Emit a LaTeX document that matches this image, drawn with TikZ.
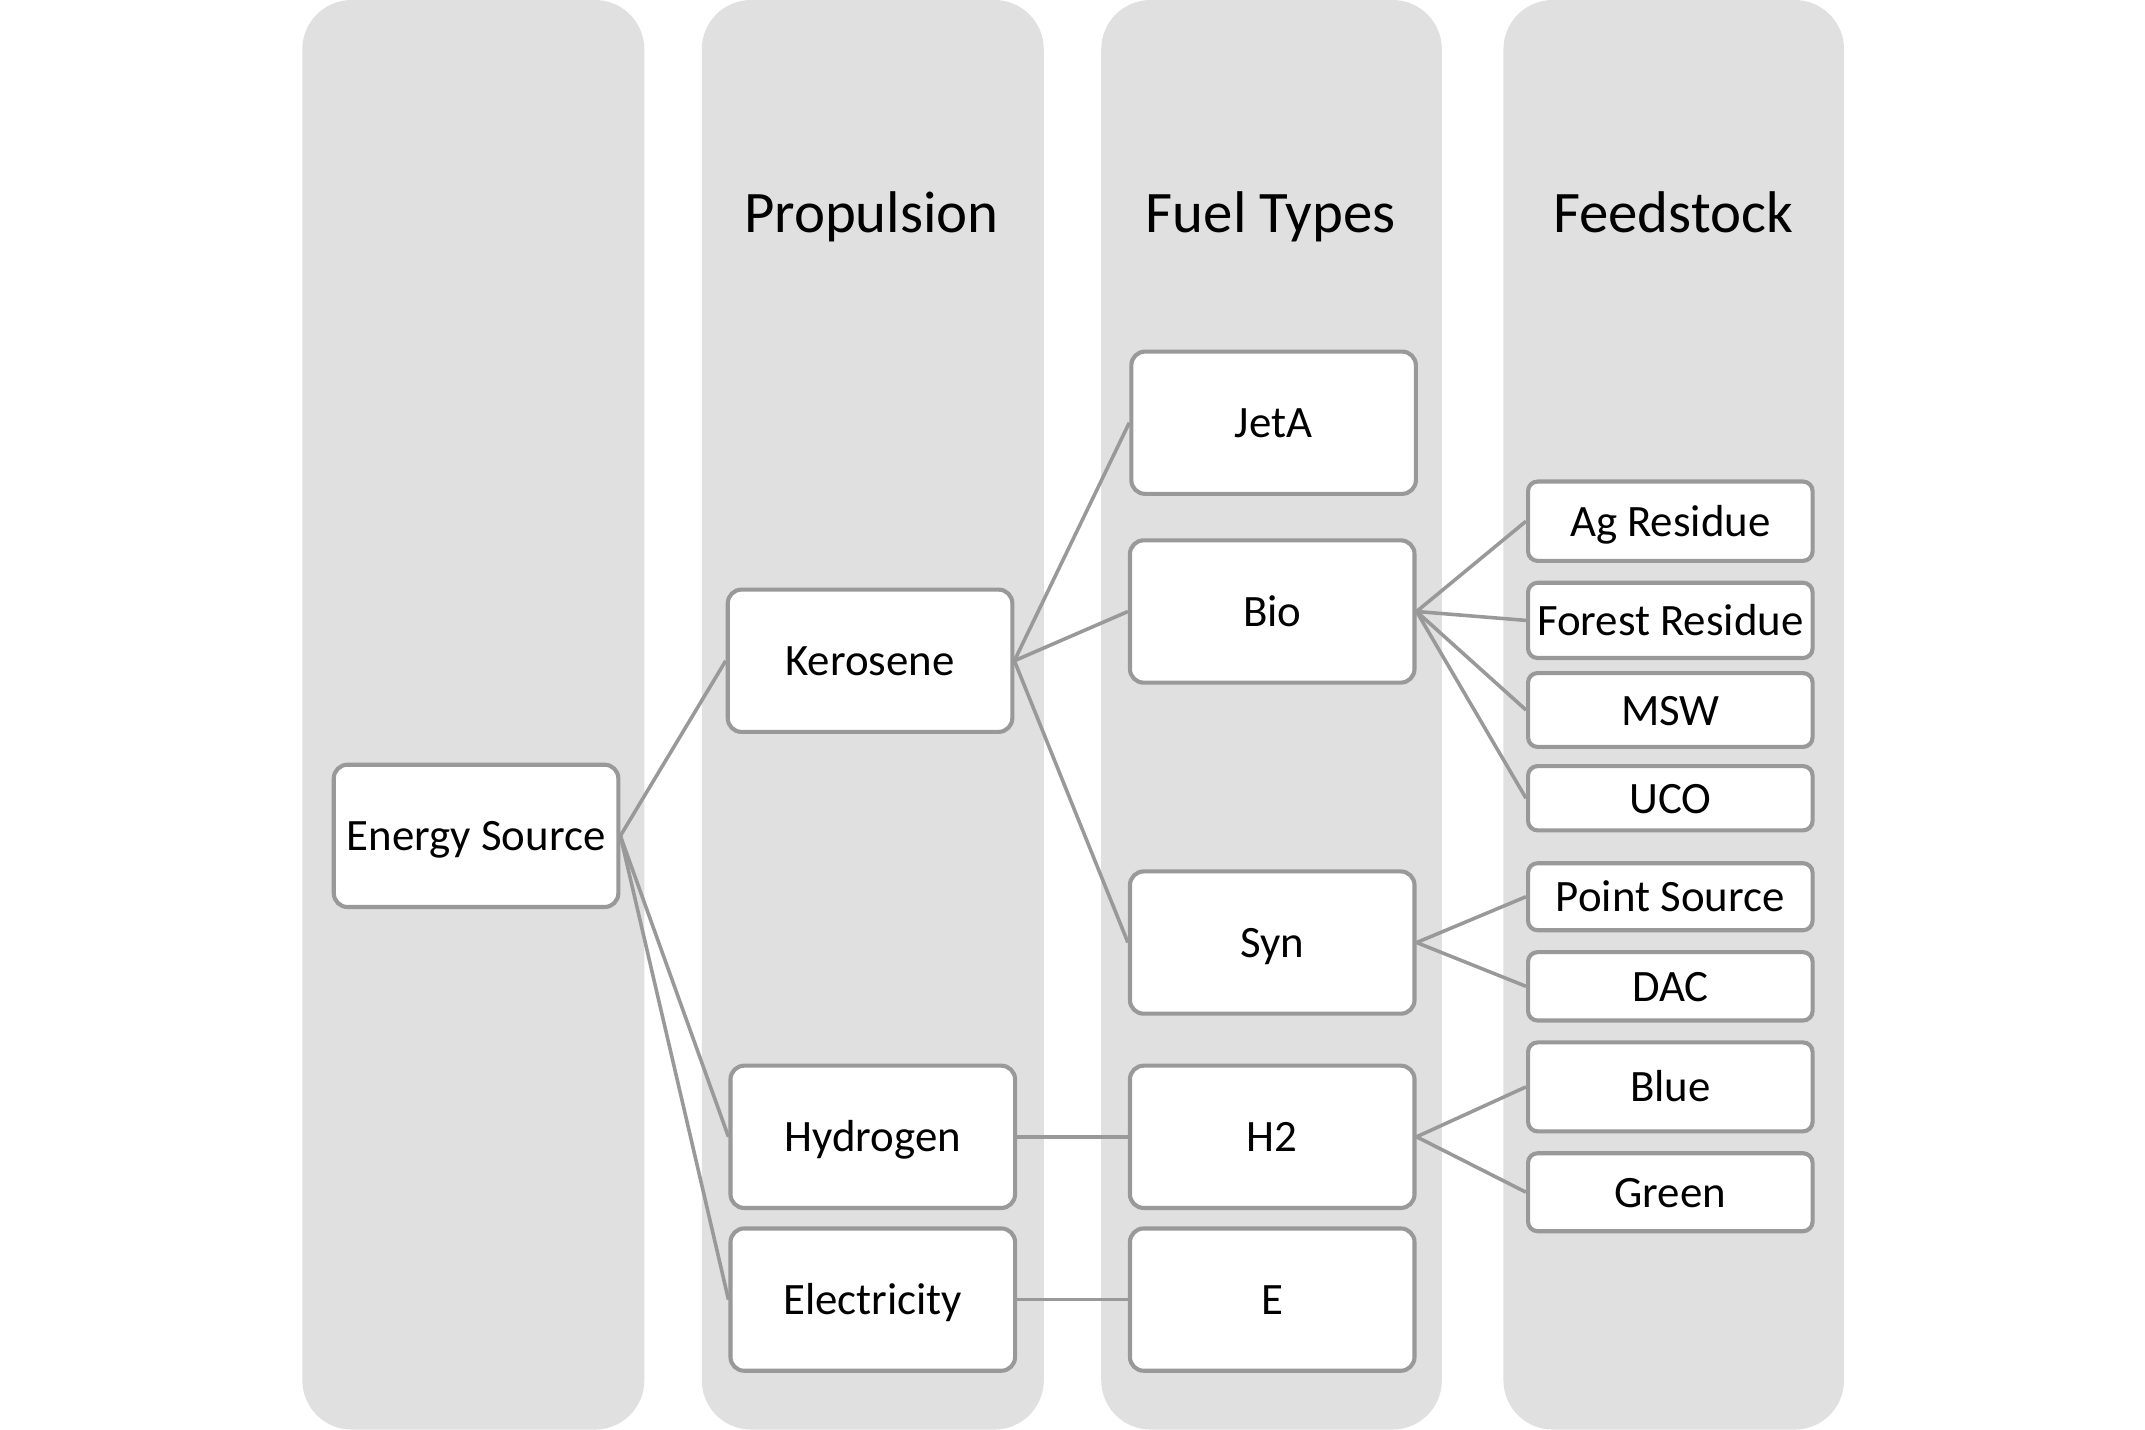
\documentclass[tikz,border=0pt]{standalone}
\usepackage{fontspec}
\setmainfont{Carlito}
\definecolor{colbg}{HTML}{E0E0E0}
\definecolor{edge}{HTML}{999999}
\tikzset{
  colband/.style={fill=colbg, draw=none, rounded corners=18pt},
  coltitle/.style={font=\fontsize{21.5}{24}\selectfont, text=black,
     text height=20pt, text depth=5pt},
  bigbox/.style={draw=edge, line width=1.5pt, fill=white, rounded corners=5pt,
     minimum width=104pt, minimum height=52pt, inner sep=0pt,
     font=\fontsize{16.4}{19}\selectfont, text height=15pt, text depth=4pt},
  smallbox/.style={draw=edge, line width=1.5pt, fill=white, rounded corners=3.5pt,
     minimum width=104pt, inner sep=0pt, font=\fontsize{16.4}{19}\selectfont,
     text height=15pt, text depth=4pt},
  link/.style={draw=edge, line width=1.3pt}
}
\begin{document}
\begin{tikzpicture}[x=0.5pt,y=-0.5pt]
\useasboundingbox (0,0) rectangle (1568,1045);
% columns
\path[colband] (221,0) rectangle (471,1045);
\path[colband] (513,0) rectangle (763,1045);
\path[colband] (805,0) rectangle (1054,1045);
\path[colband] (1099,0) rectangle (1348,1045);
% titles
\node[coltitle] (tprop) at (637,155) {Propulsion};
\node[coltitle] (tfuel) at (929,155) {Fuel Types};
\node[coltitle] (tfeed) at (1223,155) {Feedstock};
% level 1
\node[bigbox] (es) at (348,611) {Energy Source};
% level 2
\node[bigbox] (ker) at (636,483) {Kerosene};
\node[bigbox] (hyd) at (638,831) {Hydrogen};
\node[bigbox] (ele) at (638,950) {Electricity};
% level 3
\node[bigbox] (jeta) at (931,309) {JetA};
\node[bigbox] (bio) at (930,447) {Bio};
\node[bigbox] (syn) at (930,689) {Syn};
\node[bigbox] (h2) at (930,831) {H2};
\node[bigbox] (e) at (930,950) {E};
% level 4
\node[smallbox, minimum height=29pt] (ag) at (1221,381) {Ag Residue};
\node[smallbox, minimum height=27.5pt] (forest) at (1221,453.5) {Forest Residue};
\node[smallbox, minimum height=27pt] (msw) at (1221,519) {MSW};
\node[smallbox, minimum height=23.5pt] (uco) at (1221,583.5) {UCO};
\node[smallbox, minimum height=24.5pt] (ps) at (1221,655.5) {Point Source};
\node[smallbox, minimum height=25pt] (dac) at (1221,721) {DAC};
\node[smallbox, minimum height=32.5pt] (blue) at (1221,794.5) {Blue};
\node[smallbox, minimum height=28.5pt] (green) at (1221,871.5) {Green};
% connectors
\draw[link] (es.east) -- (ker.west);
\draw[link] (es.east) -- (hyd.west);
\draw[link] (es.east) -- (ele.west);
\draw[link] (ker.east) -- (jeta.west);
\draw[link] (ker.east) -- (bio.west);
\draw[link] (ker.east) -- (syn.west);
\draw[link] (hyd.east) -- (h2.west);
\draw[link] (ele.east) -- (e.west);
\draw[link] (bio.east) -- (ag.west);
\draw[link] (bio.east) -- (forest.west);
\draw[link] (bio.east) -- (msw.west);
\draw[link] (bio.east) -- (uco.west);
\draw[link] (syn.east) -- (ps.west);
\draw[link] (syn.east) -- (dac.west);
\draw[link] (h2.east) -- (blue.west);
\draw[link] (h2.east) -- (green.west);
\end{tikzpicture}
\end{document}
